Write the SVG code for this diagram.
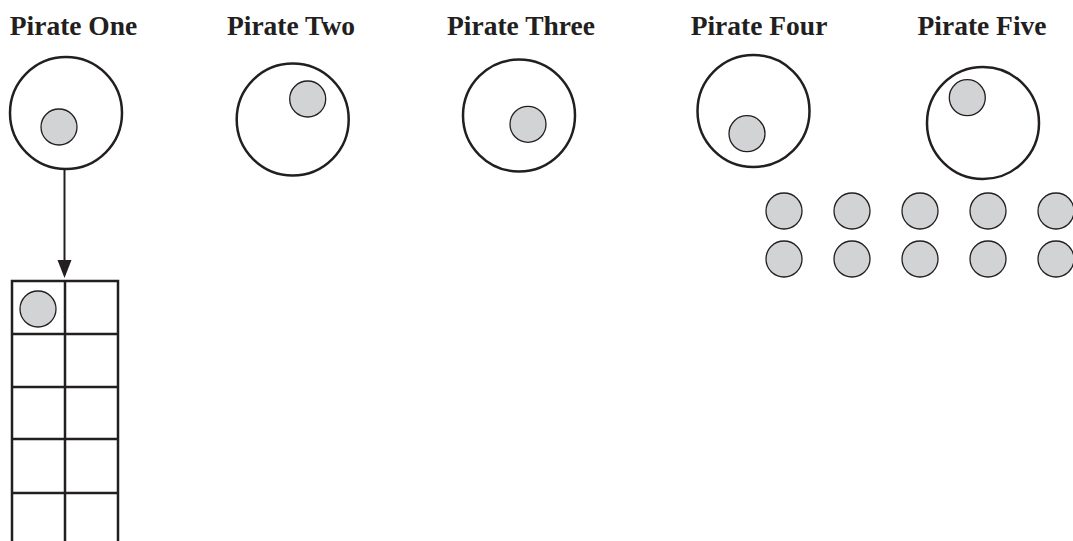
<svg xmlns="http://www.w3.org/2000/svg" width="1073" height="541" viewBox="0 0 1073 541">
<style>
.lbl{font-family:"Liberation Serif","DejaVu Serif",serif;font-weight:bold;font-size:27.5px;fill:#231f20;text-anchor:middle}
.pot{fill:#fff;stroke:#231f20;stroke-width:2.5}
.coin{fill:#d1d3d4;stroke:#231f20;stroke-width:1.3}
.grid{fill:none;stroke:#231f20;stroke-width:2.5}
.conn{stroke:#231f20;stroke-width:2;fill:none}
.head{fill:#231f20}
</style>
<g id="pirate1">
<text class="lbl" x="73.5" y="35">Pirate One</text>
<circle class="pot" cx="66" cy="113" r="56"/>
<circle class="coin" cx="59" cy="127" r="18"/>
</g>
<g id="pirate2">
<text class="lbl" x="291" y="35">Pirate Two</text>
<circle class="pot" cx="292.7" cy="119.5" r="56"/>
<circle class="coin" cx="307.7" cy="99" r="18"/>
</g>
<g id="pirate3">
<text class="lbl" x="521" y="35">Pirate Three</text>
<circle class="pot" cx="519" cy="115.5" r="56"/>
<circle class="coin" cx="528" cy="124.3" r="18"/>
</g>
<g id="pirate4">
<text class="lbl" x="759" y="35">Pirate Four</text>
<circle class="pot" cx="753.5" cy="111" r="56"/>
<circle class="coin" cx="747" cy="133.7" r="18"/>
</g>
<g id="pirate5">
<text class="lbl" x="982" y="35">Pirate Five</text>
<circle class="pot" cx="983" cy="123" r="56"/>
<circle class="coin" cx="967.3" cy="97.7" r="18"/>
</g>
<g id="loose-coins">
<circle class="coin" cx="784" cy="211" r="18"/>
<circle class="coin" cx="852" cy="211" r="18"/>
<circle class="coin" cx="920" cy="211" r="18"/>
<circle class="coin" cx="988" cy="211" r="18"/>
<circle class="coin" cx="1056" cy="211" r="18"/>
<circle class="coin" cx="784" cy="259" r="18"/>
<circle class="coin" cx="852" cy="259" r="18"/>
<circle class="coin" cx="920" cy="259" r="18"/>
<circle class="coin" cx="988" cy="259" r="18"/>
<circle class="coin" cx="1056" cy="259" r="18"/>
</g>
<g id="grid">
<path class="grid" d="M12,545 V281 H118 V545 M65,281 V545 M12,334 H118 M12,387 H118 M12,439 H118 M12,493 H118"/>
<circle class="coin" cx="38" cy="309" r="18"/>
</g>
<g id="connectors">
<line class="conn" x1="64.5" y1="169" x2="64.5" y2="262"/>
<path class="head" d="M57.5,260 L71.5,260 L64.5,278 Z"/>
</g>
</svg>
